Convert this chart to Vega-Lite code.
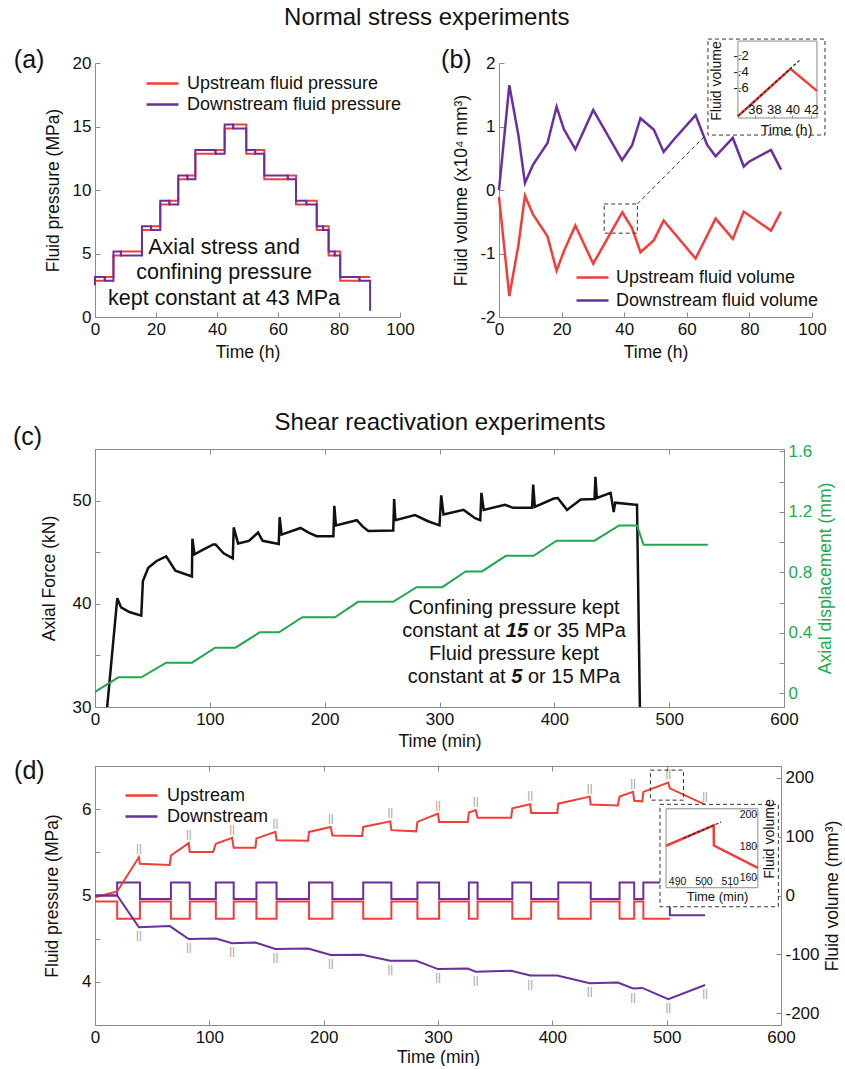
{
"$schema": "https://vega.github.io/schema/vega-lite/v6.json",
"background": "white",
"padding": {"left": 12, "top": 5, "right": 0, "bottom": 0},
"title": {"text": "Normal stress experiments", "fontSize": 24, "anchor": "middle", "offset": 9},
"spacing": 49,
"resolve": {"scale": {"color": "independent"}, "legend": {"color": "independent"}},
"vconcat": [
{"hconcat": [
{
 "width": 305, "height": 254,
 "view": {"stroke": null},
 "layer": [
  {"data": {"name": "pa"},
   "mark": {"type": "line", "interpolate": "step-after", "strokeWidth": 2},
   "encoding": {
    "x": {"field": "t", "type": "quantitative", "scale": {"domain": [0, 100]}, "axis": {"title": "Time (h)", "values": [0, 20, 40, 60, 80, 100], "titlePadding": 6}},
    "y": {"field": "p", "type": "quantitative", "scale": {"domain": [0, 20]}, "axis": {"title": "Fluid pressure (MPa)", "values": [0, 5, 10, 15, 20], "titlePadding": 10}},
    "color": {"field": "s", "type": "nominal", "scale": {"domain": ["Upstream fluid pressure", "Downstream fluid pressure"], "range": ["#f23d38", "#6a2e9e"]}, "legend": {"title": null, "orient": "none", "legendX": 58, "legendY": 11}}
   }},
  {"data": {"name": "patext"},
   "mark": {"type": "text", "fontSize": 21.5, "baseline": "middle", "color": "#111"},
   "encoding": {"x": {"field": "t", "type": "quantitative", "scale": {"domain": [0, 100]}}, "y": {"field": "p", "type": "quantitative", "scale": {"domain": [0, 20]}}, "text": {"field": "txt"}}},
  {"data": {"values": [{"t": -26.6, "p": 19.2, "txt": "(a)"}]},
   "mark": {"type": "text", "fontSize": 25, "baseline": "bottom", "align": "left", "color": "#111"},
   "encoding": {"x": {"field": "t", "type": "quantitative", "scale": {"domain": [0, 100]}}, "y": {"field": "p", "type": "quantitative", "scale": {"domain": [0, 20]}}, "text": {"field": "txt"}}}
 ]
},
{
 "width": 313, "height": 254,
 "view": {"stroke": null},
 "resolve": {"scale": {"x": "independent", "y": "independent"}},
 "layer": [
  {"layer": [
    {"data": {"name": "pb"}, "mark": {"type": "line", "strokeWidth": 2.5},
     "encoding": {
      "x": {"field": "t", "type": "quantitative", "scale": {"domain": [0, 100]}, "axis": {"title": "Time (h)", "values": [0, 20, 40, 60, 80, 100], "titlePadding": 6}},
      "y": {"field": "v", "type": "quantitative", "scale": {"domain": [-2, 2]}, "axis": {"title": "Fluid volume (x10⁴ mm³)", "values": [-2, -1, 0, 1, 2], "labelExpr": "replace(format(datum.value, '.0f'), '\u2212', '-')", "titlePadding": 9}},
      "color": {"field": "s", "type": "nominal", "scale": {"domain": ["Upstream fluid volume", "Downstream fluid volume"], "range": ["#f23d38", "#6a2e9e"]}, "legend": {"title": null, "orient": "none", "legendX": 84, "legendY": 205, "rowPadding": 4, "labelOffset": 14}}
     }},
    {"data": {"name": "pbbox"}, "mark": {"type": "rect", "fill": "transparent", "stroke": "#333", "strokeWidth": 1, "strokeDash": [4, 3]},
     "encoding": {"x": {"field": "x1", "type": "quantitative", "scale": {"domain": [0, 100]}}, "x2": {"field": "x2"}, "y": {"field": "y1", "type": "quantitative", "scale": {"domain": [-2, 2]}}, "y2": {"field": "y2"}}},
    {"data": {"name": "pbconn"}, "mark": {"type": "line", "stroke": "#333", "strokeWidth": 1, "strokeDash": [4, 3]},
     "encoding": {"x": {"field": "t", "type": "quantitative", "scale": {"domain": [0, 100]}}, "y": {"field": "v", "type": "quantitative", "scale": {"domain": [-2, 2]}}}},
    {"data": {"values": [{"t": -18.5, "v": 1.85, "txt": "(b)"}]},
     "mark": {"type": "text", "fontSize": 25, "baseline": "bottom", "align": "left", "color": "#111"},
     "encoding": {"x": {"field": "t", "type": "quantitative", "scale": {"domain": [0, 100]}}, "y": {"field": "v", "type": "quantitative", "scale": {"domain": [-2, 2]}}, "text": {"field": "txt"}}}
  ]},
  {"layer": [
    {"data": {"name": "pbin_box"}, "transform": [{"filter": "datum.k == 'outer'"}],
     "mark": {"type": "rect", "fill": "white", "stroke": "#333", "strokeWidth": 1, "strokeDash": [4, 3]},
     "encoding": {
      "x": {"field": "x1", "type": "quantitative", "scale": {"domain": [8.62, 42.1]}, "axis": {"orient": "top", "offset": -55, "zindex": 2, "values": [36, 38, 40, 42], "domain": false, "tickSize": 3, "labelPadding": -1, "labelFontSize": 13, "title": "Time (h)", "titleFontSize": 14, "titleX": 287, "titleY": 5, "titleBaseline": "top", "titleAlign": "center", "titleAngle": 0}},
      "x2": {"field": "x2"},
      "y": {"field": "y1", "type": "quantitative", "scale": {"domain": [-3.415, -0.1], "range": [254, -16.1]}, "axis": {"orient": "right", "offset": -74, "zindex": 2, "values": [-0.2, -0.4, -0.6], "domain": false, "tickSize": 3, "labelPadding": -8, "labelFontSize": 13, "labelExpr": "replace(replace(format(datum.value, '.1f'), '0.', '.'), '\u2212', '-')", "title": "Fluid volume", "titleFontSize": 14, "titleX": -15, "titleY": 17.5, "titleAngle": -90, "titleBaseline": "bottom", "titleAlign": "center"}},
      "y2": {"field": "y2"}
     }},
    {"data": {"name": "pbin_box"}, "transform": [{"filter": "datum.k == 'inner'"}],
     "mark": {"type": "rect", "fill": "transparent", "stroke": "#8c8c8c", "strokeWidth": 1},
     "encoding": {"x": {"field": "x1", "type": "quantitative", "scale": {"domain": [8.62, 42.1]}}, "x2": {"field": "x2"}, "y": {"field": "y1", "type": "quantitative", "scale": {"domain": [-3.415, -0.1], "range": [254, -16.1]}}, "y2": {"field": "y2"}}},
    {"data": {"name": "pbin"}, "transform": [{"filter": "datum.k == 'red'"}],
     "mark": {"type": "line", "stroke": "#f23d38", "strokeWidth": 2.5},
     "encoding": {"x": {"field": "t", "type": "quantitative", "scale": {"domain": [8.62, 42.1]}}, "y": {"field": "v", "type": "quantitative", "scale": {"domain": [-3.415, -0.1], "range": [254, -16.1]}}}},
    {"data": {"name": "pbin"}, "transform": [{"filter": "datum.k == 'dash'"}],
     "mark": {"type": "line", "stroke": "#222", "strokeWidth": 1.2, "strokeDash": [3, 2]},
     "encoding": {"x": {"field": "t", "type": "quantitative", "scale": {"domain": [8.62, 42.1]}}, "y": {"field": "v", "type": "quantitative", "scale": {"domain": [-3.415, -0.1], "range": [254, -16.1]}}}}
  ]}
 ]
}
], "spacing": 26, "resolve": {"scale": {"color": "independent"}, "legend": {"color": "independent"}}},
{"vconcat": [
{
 "width": 689, "height": 258,
 "resolve": {"scale": {"x": "independent", "y": "independent"}},
 "layer": [
  {"layer": [
    {"data": {"name": "pc"}, "mark": {"type": "line", "color": "#111", "strokeWidth": 2.5, "clip": true},
     "encoding": {
      "x": {"field": "t", "type": "quantitative", "scale": {"domain": [0, 600]}, "axis": {"title": "Time (min)", "values": [0, 100, 200, 300, 400, 500, 600], "titlePadding": 5}},
      "y": {"field": "f", "type": "quantitative", "scale": {"domain": [30, 55]}, "axis": {"title": "Axial Force (kN)", "values": [30, 35, 40, 45, 50], "labelExpr": "datum.value % 10 == 0 ? format(datum.value, '.0f') : ''", "titlePadding": 14}}
     }},
    {"data": {"name": "pctext"}, "transform": [{"filter": "datum.part == 'c'"}],
     "mark": {"type": "text", "fontSize": 20, "baseline": "middle", "align": "center", "color": "#111"},
     "encoding": {"x": {"field": "t", "type": "quantitative", "scale": {"domain": [0, 600]}}, "y": {"field": "f", "type": "quantitative", "scale": {"domain": [30, 55]}}, "text": {"field": "txt"}}},
    {"data": {"name": "pctext"}, "transform": [{"filter": "datum.part == 'r'"}],
     "mark": {"type": "text", "fontSize": 20, "baseline": "middle", "align": "right", "color": "#111"},
     "encoding": {"x": {"field": "t", "type": "quantitative", "scale": {"domain": [0, 600]}}, "y": {"field": "f", "type": "quantitative", "scale": {"domain": [30, 55]}}, "text": {"field": "txt"}}},
    {"data": {"name": "pctext"}, "transform": [{"filter": "datum.part == 'b'"}],
     "mark": {"type": "text", "fontSize": 20, "baseline": "middle", "align": "left", "fontWeight": "bold", "fontStyle": "italic", "color": "#111"},
     "encoding": {"x": {"field": "t", "type": "quantitative", "scale": {"domain": [0, 600]}}, "y": {"field": "f", "type": "quantitative", "scale": {"domain": [30, 55]}}, "text": {"field": "txt"}}},
    {"data": {"name": "pctext"}, "transform": [{"filter": "datum.part == 'l'"}],
     "mark": {"type": "text", "fontSize": 20, "baseline": "middle", "align": "left", "color": "#111"},
     "encoding": {"x": {"field": "t", "type": "quantitative", "scale": {"domain": [0, 600]}}, "y": {"field": "f", "type": "quantitative", "scale": {"domain": [30, 55]}}, "text": {"field": "txt"}}},
    {"data": {"values": [{"t": -71.4, "f": 54.9, "txt": "(c)"}]},
     "mark": {"type": "text", "fontSize": 25, "baseline": "bottom", "align": "left", "color": "#111"},
     "encoding": {"x": {"field": "t", "type": "quantitative", "scale": {"domain": [0, 600]}}, "y": {"field": "f", "type": "quantitative", "scale": {"domain": [30, 55]}}, "text": {"field": "txt"}}}
  ]},
  {"data": {"name": "pcg"}, "mark": {"type": "line", "color": "#1fa84f", "strokeWidth": 2},
   "encoding": {
    "x": {"field": "t", "type": "quantitative", "scale": {"domain": [0, 600]}, "axis": {"orient": "top", "labels": false, "domain": false, "values": [0, 100, 200, 300, 400, 500, 600], "title": "Shear reactivation experiments", "titleFontSize": 24, "titlePadding": 14}},
    "y": {"field": "d", "type": "quantitative", "scale": {"domain": [-0.09, 1.615]}, "axis": {"orient": "right", "values": [0, 0.2, 0.4, 0.6, 0.8, 1, 1.2, 1.4, 1.6], "labelExpr": "round(datum.value*10) % 4 == 0 ? (datum.value == 0 ? '0' : format(datum.value, '.1f')) : ''", "labelColor": "#1fa84f", "title": "Axial displacement (mm)", "titleColor": "#1fa84f", "titleAngle": -90, "titleBaseline": "top", "titlePadding": 5}}
   }}
 ]
},
{
 "width": 686, "height": 259,
 "resolve": {"scale": {"x": "independent", "y": "independent"}},
 "layer": [
  {"layer": [
    {"data": {"name": "pdp"}, "mark": {"type": "line", "interpolate": "step-after", "strokeWidth": 2},
     "encoding": {
      "x": {"field": "t", "type": "quantitative", "scale": {"domain": [0, 600]}, "axis": {"title": "Time (min)", "values": [0, 100, 200, 300, 400, 500, 600], "titlePadding": 3}},
      "y": {"field": "p", "type": "quantitative", "scale": {"domain": [3.5, 6.5]}, "axis": {"title": "Fluid pressure (MPa)", "values": [4, 4.5, 5, 5.5, 6], "labelExpr": "datum.value % 1 == 0 ? format(datum.value, '.0f') : ''", "titlePadding": 20}},
      "color": {"field": "s", "type": "nominal", "scale": {"domain": ["Upstream", "Downstream"], "range": ["#f23d38", "#6a2e9e"]}, "legend": {"title": null, "orient": "none", "legendX": 37, "legendY": 20, "labelOffset": 16}}
     }},
    {"data": {"values": [{"t": -70.8, "p": 6.29, "txt": "(d)"}]},
     "mark": {"type": "text", "fontSize": 25, "baseline": "bottom", "align": "left", "color": "#111"},
     "encoding": {"x": {"field": "t", "type": "quantitative", "scale": {"domain": [0, 600]}}, "y": {"field": "p", "type": "quantitative", "scale": {"domain": [3.5, 6.5]}}, "text": {"field": "txt"}}}
  ]},
  {"layer": [
    {"data": {"name": "pdv"}, "mark": {"type": "line", "strokeWidth": 2},
     "encoding": {
      "x": {"field": "t", "type": "quantitative", "scale": {"domain": [0, 600]}, "axis": {"orient": "top", "labels": false, "domain": false, "values": [0, 100, 200, 300, 400, 500, 600], "title": null}},
      "y": {"field": "v", "type": "quantitative", "scale": {"domain": [-220, 220]}, "axis": {"orient": "right", "values": [-200, -150, -100, -50, 0, 50, 100, 150, 200], "labelExpr": "datum.value % 100 == 0 ? replace(format(datum.value, '.0f'), '\u2212', '-') : ''", "title": "Fluid volume (mm³)", "titleAngle": -90, "titleBaseline": "top", "titlePadding": 4}},
      "color": {"field": "s", "type": "nominal", "scale": {"domain": ["Upstream", "Downstream"], "range": ["#f23d38", "#6a2e9e"]}, "legend": null}
     }},
    {"data": {"name": "pdtick"}, "transform": [{"filter": "datum.s == 'Upstream'"}],
     "mark": {"type": "text", "text": "||", "fontSize": 11, "color": "#9a9a9a", "baseline": "bottom", "dy": -3},
     "encoding": {"x": {"field": "t", "type": "quantitative", "scale": {"domain": [0, 600]}}, "y": {"field": "v", "type": "quantitative", "scale": {"domain": [-220, 220]}}}},
    {"data": {"name": "pdtick"}, "transform": [{"filter": "datum.s == 'Downstream'"}],
     "mark": {"type": "text", "text": "||", "fontSize": 11, "color": "#9a9a9a", "baseline": "top", "dy": 3},
     "encoding": {"x": {"field": "t", "type": "quantitative", "scale": {"domain": [0, 600]}}, "y": {"field": "v", "type": "quantitative", "scale": {"domain": [-220, 220]}}}},
    {"data": {"name": "pdbox"}, "mark": {"type": "rect", "fill": "transparent", "stroke": "#333", "strokeWidth": 1, "strokeDash": [4, 3]},
     "encoding": {"x": {"field": "x1", "type": "quantitative", "scale": {"domain": [0, 600]}}, "x2": {"field": "x2"}, "y": {"field": "y1", "type": "quantitative", "scale": {"domain": [-220, 220]}}, "y2": {"field": "y2"}}}
  ]},
  {"layer": [
    {"data": {"name": "pdin_box"}, "transform": [{"filter": "datum.k == 'outer'"}],
     "mark": {"type": "rect", "fill": "white", "stroke": "#333", "strokeWidth": 1, "strokeDash": [4, 3]},
     "encoding": {
      "x": {"field": "x1", "type": "quantitative", "scale": {"domain": [268.7, 529.5]}, "axis": {"orient": "top", "offset": -121.7, "zindex": 2, "values": [490, 500, 510], "domain": false, "tickSize": 3, "labelPadding": -2, "labelFontSize": 10.5, "title": "Time (min)", "titleFontSize": 13, "titleX": 622, "titleY": 3, "titleBaseline": "top", "titleAlign": "center", "titleAngle": 0}},
      "x2": {"field": "x2"},
      "y": {"field": "y1", "type": "quantitative", "scale": {"domain": [67.1, 230.5]}, "axis": {"orient": "left", "offset": -662.7, "zindex": 2, "values": [160, 180, 200], "domain": false, "tickSize": 3, "labelPadding": -2, "labelFontSize": 10.5, "title": "Fluid volume", "titleFontSize": 14, "titleX": 5, "titleY": 72.5, "titleAngle": -90, "titleBaseline": "top", "titleAlign": "center"}},
      "y2": {"field": "y2"}
     }},
    {"data": {"name": "pdin_box"}, "transform": [{"filter": "datum.k == 'inner'"}],
     "mark": {"type": "rect", "fill": "transparent", "stroke": "#8c8c8c", "strokeWidth": 1},
     "encoding": {"x": {"field": "x1", "type": "quantitative", "scale": {"domain": [268.7, 529.5]}}, "x2": {"field": "x2"}, "y": {"field": "y1", "type": "quantitative", "scale": {"domain": [67.1, 230.5]}}, "y2": {"field": "y2"}}},
    {"data": {"name": "pdin"}, "transform": [{"filter": "datum.k == 'red'"}],
     "mark": {"type": "line", "stroke": "#f23d38", "strokeWidth": 2.5},
     "encoding": {"x": {"field": "t", "type": "quantitative", "scale": {"domain": [268.7, 529.5]}}, "y": {"field": "v", "type": "quantitative", "scale": {"domain": [67.1, 230.5]}}}},
    {"data": {"name": "pdin"}, "transform": [{"filter": "datum.k == 'dash'"}],
     "mark": {"type": "line", "stroke": "#222", "strokeWidth": 1.2, "strokeDash": [3, 2]},
     "encoding": {"x": {"field": "t", "type": "quantitative", "scale": {"domain": [268.7, 529.5]}}, "y": {"field": "v", "type": "quantitative", "scale": {"domain": [67.1, 230.5]}}}}
  ]}
 ]
}
], "spacing": 8, "resolve": {"scale": {"color": "independent"}, "legend": {"color": "independent"}}}
],
"datasets": {
 "pa": [
  {"t":0,"p":2.85,"s":"Upstream fluid pressure"},{"t":3.2,"p":3.15,"s":"Upstream fluid pressure"},{"t":6.05,"p":4.85,"s":"Upstream fluid pressure"},{"t":8.5,"p":5.15,"s":"Upstream fluid pressure"},{"t":15.4,"p":6.85,"s":"Upstream fluid pressure"},{"t":18.4,"p":7.15,"s":"Upstream fluid pressure"},{"t":21.4,"p":8.85,"s":"Upstream fluid pressure"},{"t":24.4,"p":9.15,"s":"Upstream fluid pressure"},{"t":27.3,"p":10.85,"s":"Upstream fluid pressure"},{"t":30.3,"p":11.15,"s":"Upstream fluid pressure"},{"t":32.9,"p":12.85,"s":"Upstream fluid pressure"},{"t":39.5,"p":13.15,"s":"Upstream fluid pressure"},{"t":42.5,"p":14.85,"s":"Upstream fluid pressure"},{"t":45.3,"p":15.15,"s":"Upstream fluid pressure"},{"t":49.6,"p":12.85,"s":"Upstream fluid pressure"},{"t":52.5,"p":13.15,"s":"Upstream fluid pressure"},{"t":55.5,"p":10.85,"s":"Upstream fluid pressure"},{"t":63.2,"p":11.15,"s":"Upstream fluid pressure"},{"t":65.9,"p":8.85,"s":"Upstream fluid pressure"},{"t":69.3,"p":9.15,"s":"Upstream fluid pressure"},{"t":72.7,"p":6.85,"s":"Upstream fluid pressure"},{"t":74.8,"p":7.15,"s":"Upstream fluid pressure"},{"t":76.6,"p":4.85,"s":"Upstream fluid pressure"},{"t":78.6,"p":5.15,"s":"Upstream fluid pressure"},{"t":80.4,"p":2.85,"s":"Upstream fluid pressure"},{"t":86.7,"p":3.15,"s":"Upstream fluid pressure"},{"t":90.2,"p":3.15,"s":"Upstream fluid pressure"},
  {"t":0,"p":2.5,"s":"Downstream fluid pressure"},{"t":0,"p":3.15,"s":"Downstream fluid pressure"},{"t":3.2,"p":2.85,"s":"Downstream fluid pressure"},{"t":6.05,"p":5.15,"s":"Downstream fluid pressure"},{"t":8.5,"p":4.85,"s":"Downstream fluid pressure"},{"t":15.4,"p":7.15,"s":"Downstream fluid pressure"},{"t":18.4,"p":6.85,"s":"Downstream fluid pressure"},{"t":21.4,"p":9.15,"s":"Downstream fluid pressure"},{"t":24.4,"p":8.85,"s":"Downstream fluid pressure"},{"t":27.3,"p":11.15,"s":"Downstream fluid pressure"},{"t":30.3,"p":10.85,"s":"Downstream fluid pressure"},{"t":32.9,"p":13.15,"s":"Downstream fluid pressure"},{"t":39.5,"p":12.85,"s":"Downstream fluid pressure"},{"t":42.5,"p":15.15,"s":"Downstream fluid pressure"},{"t":45.3,"p":14.85,"s":"Downstream fluid pressure"},{"t":49.6,"p":13.15,"s":"Downstream fluid pressure"},{"t":52.5,"p":12.85,"s":"Downstream fluid pressure"},{"t":55.5,"p":11.15,"s":"Downstream fluid pressure"},{"t":63.2,"p":10.85,"s":"Downstream fluid pressure"},{"t":65.9,"p":9.15,"s":"Downstream fluid pressure"},{"t":69.3,"p":8.85,"s":"Downstream fluid pressure"},{"t":72.7,"p":7.15,"s":"Downstream fluid pressure"},{"t":74.8,"p":6.85,"s":"Downstream fluid pressure"},{"t":76.6,"p":5.15,"s":"Downstream fluid pressure"},{"t":78.6,"p":4.85,"s":"Downstream fluid pressure"},{"t":80.4,"p":3.15,"s":"Downstream fluid pressure"},{"t":86.7,"p":2.85,"s":"Downstream fluid pressure"},{"t":90.2,"p":0.5,"s":"Downstream fluid pressure"}
 ],
 "patext": [
  {"t":42.3,"p":5.45,"txt":"Axial stress and"},
  {"t":42.3,"p":3.45,"txt":"confining pressure"},
  {"t":42.3,"p":1.42,"txt":"kept constant at 43 MPa"}
 ],
 "pb": [
  {"t":0,"v":-0.11,"s":"Upstream fluid volume"},{"t":3.3,"v":-1.67,"s":"Upstream fluid volume"},{"t":6.2,"v":-0.87,"s":"Upstream fluid volume"},{"t":8.3,"v":-0.09,"s":"Upstream fluid volume"},{"t":10.9,"v":-0.39,"s":"Upstream fluid volume"},{"t":15.5,"v":-0.73,"s":"Upstream fluid volume"},{"t":18.4,"v":-1.27,"s":"Upstream fluid volume"},{"t":20.7,"v":-0.97,"s":"Upstream fluid volume"},{"t":24.4,"v":-0.56,"s":"Upstream fluid volume"},{"t":30.1,"v":-1.16,"s":"Upstream fluid volume"},{"t":39.4,"v":-0.35,"s":"Upstream fluid volume"},{"t":42.5,"v":-0.6,"s":"Upstream fluid volume"},{"t":45.2,"v":-0.98,"s":"Upstream fluid volume"},{"t":49.5,"v":-0.79,"s":"Upstream fluid volume"},{"t":52.6,"v":-0.48,"s":"Upstream fluid volume"},{"t":62.8,"v":-1.08,"s":"Upstream fluid volume"},{"t":69.2,"v":-0.45,"s":"Upstream fluid volume"},{"t":74.7,"v":-0.77,"s":"Upstream fluid volume"},{"t":78.2,"v":-0.34,"s":"Upstream fluid volume"},{"t":86.9,"v":-0.64,"s":"Upstream fluid volume"},{"t":90.1,"v":-0.34,"s":"Upstream fluid volume"},
  {"t":0,"v":0,"s":"Downstream fluid volume"},{"t":3.3,"v":1.65,"s":"Downstream fluid volume"},{"t":6.2,"v":0.86,"s":"Downstream fluid volume"},{"t":8.3,"v":0.11,"s":"Downstream fluid volume"},{"t":10.9,"v":0.4,"s":"Downstream fluid volume"},{"t":15.5,"v":0.74,"s":"Downstream fluid volume"},{"t":18.4,"v":1.31,"s":"Downstream fluid volume"},{"t":20.7,"v":0.96,"s":"Downstream fluid volume"},{"t":24.4,"v":0.64,"s":"Downstream fluid volume"},{"t":30.1,"v":1.26,"s":"Downstream fluid volume"},{"t":39.3,"v":0.47,"s":"Downstream fluid volume"},{"t":42.5,"v":0.7,"s":"Downstream fluid volume"},{"t":45.2,"v":1.13,"s":"Downstream fluid volume"},{"t":49.5,"v":0.95,"s":"Downstream fluid volume"},{"t":52.6,"v":0.6,"s":"Downstream fluid volume"},{"t":55.6,"v":0.78,"s":"Downstream fluid volume"},{"t":62.8,"v":1.18,"s":"Downstream fluid volume"},{"t":66.5,"v":0.71,"s":"Downstream fluid volume"},{"t":69.2,"v":0.53,"s":"Downstream fluid volume"},{"t":74.7,"v":0.82,"s":"Downstream fluid volume"},{"t":78.2,"v":0.37,"s":"Downstream fluid volume"},{"t":80,"v":0.45,"s":"Downstream fluid volume"},{"t":86.9,"v":0.63,"s":"Downstream fluid volume"},{"t":90.1,"v":0.32,"s":"Downstream fluid volume"}
 ],
 "pbbox": [{"x1":33.6,"x2":44.2,"y1":-0.68,"y2":-0.22}],
 "pbconn": [{"t":44.2,"v":-0.22},{"t":66,"v":0.86}],
 "pbin_box": [{"x1":30.97,"x2":43.49,"y1":-1.182,"y2":-0.004,"k":"outer"},{"x1":34.18,"x2":42.63,"y1":-0.973,"y2":-0.028,"k":"inner"}],
 "pbin": [{"t":34.18,"v":-0.95,"k":"red"},{"t":39.8,"v":-0.37,"k":"red"},{"t":42.63,"v":-0.64,"k":"red"},{"t":34.18,"v":-0.95,"k":"dash"},{"t":40.9,"v":-0.25,"k":"dash"}],
 "pc": [
  {"t":10.6,"f":30},{"t":19.4,"f":40.55},{"t":22.7,"f":39.65},{"t":29.9,"f":39.2},{"t":40.3,"f":38.85},{"t":41.7,"f":42.2},{"t":46.4,"f":43.5},{"t":53.6,"f":44.15},{"t":62,"f":44.6},{"t":70,"f":43.2},{"t":84.4,"f":42.65},{"t":84.8,"f":46.3},{"t":86.7,"f":44.8},{"t":95,"f":45.3},{"t":103,"f":45.75},{"t":105,"f":45.75},{"t":112,"f":44.9},{"t":120,"f":44.4},{"t":120.8,"f":47.4},{"t":124.6,"f":45.85},{"t":134,"f":46.1},{"t":142,"f":46.9},{"t":146,"f":46.1},{"t":160,"f":45.8},{"t":160.8,"f":48.4},{"t":162.5,"f":46.7},{"t":179,"f":47.35},{"t":186,"f":46.9},{"t":193,"f":46.55},{"t":207.6,"f":46.55},{"t":208.4,"f":49.5},{"t":209.8,"f":47.6},{"t":228,"f":48.1},{"t":233,"f":47.5},{"t":238,"f":47.05},{"t":259.7,"f":47.1},{"t":260.5,"f":50.15},{"t":261.6,"f":48.1},{"t":278.7,"f":48.6},{"t":290,"f":48.0},{"t":300,"f":47.6},{"t":301.5,"f":50.5},{"t":303.5,"f":48.65},{"t":321,"f":49.1},{"t":331,"f":48.3},{"t":335.5,"f":48.1},{"t":336.5,"f":50.75},{"t":338.5,"f":49.1},{"t":357,"f":49.6},{"t":364,"f":49.3},{"t":380.6,"f":49.3},{"t":381.6,"f":51.55},{"t":383,"f":49.4},{"t":399.5,"f":50.2},{"t":403,"f":50.25},{"t":411,"f":49.1},{"t":423,"f":50.1},{"t":435,"f":50.15},{"t":435.8,"f":52.3},{"t":437,"f":50.25},{"t":449,"f":50.75},{"t":451.7,"f":48.9},{"t":453,"f":49.8},{"t":470.6,"f":49.6},{"t":472,"f":49.6},{"t":474.5,"f":30}
 ],
 "pctext": [
  {"t":364.9,"f":39.6,"txt":"Confining pressure kept","part":"c"},
  {"t":364.9,"f":35.1,"txt":"Fluid pressure kept","part":"c"},
  {"t":352.8,"f":37.4,"txt":"constant at","part":"r"},
  {"t":357.7,"f":37.4,"txt":"15","part":"b"},
  {"t":381.9,"f":37.4,"txt":"or 35 MPa","part":"l"},
  {"t":357.6,"f":32.9,"txt":"constant at","part":"r"},
  {"t":362.5,"f":32.9,"txt":"5","part":"b"},
  {"t":377.0,"f":32.9,"txt":"or 15 MPa","part":"l"}
 ],
 "pcg": [
  {"t":0,"d":0.01},{"t":20.4,"d":0.106},{"t":40.3,"d":0.106},{"t":62,"d":0.203},{"t":84.4,"d":0.203},{"t":104.7,"d":0.302},{"t":122.3,"d":0.302},{"t":143.6,"d":0.404},{"t":160.2,"d":0.404},{"t":180.6,"d":0.503},{"t":209,"d":0.503},{"t":229,"d":0.605},{"t":259.7,"d":0.605},{"t":280,"d":0.702},{"t":302.4,"d":0.702},{"t":322.7,"d":0.806},{"t":337,"d":0.806},{"t":357.8,"d":0.909},{"t":382,"d":0.909},{"t":401.9,"d":1.009},{"t":435,"d":1.009},{"t":456.4,"d":1.11},{"t":472,"d":1.11},{"t":477.7,"d":0.982},{"t":533.6,"d":0.982}
 ],
 "pdp": [
  {"t":0,"p":4.93,"s":"Upstream"},{"t":19.4,"p":4.73,"s":"Upstream"},{"t":39.3,"p":4.93,"s":"Upstream"},{"t":66.4,"p":4.73,"s":"Upstream"},{"t":82.9,"p":4.93,"s":"Upstream"},{"t":105.7,"p":4.73,"s":"Upstream"},{"t":121.3,"p":4.93,"s":"Upstream"},{"t":141.2,"p":4.73,"s":"Upstream"},{"t":158.8,"p":4.93,"s":"Upstream"},{"t":187.2,"p":4.73,"s":"Upstream"},{"t":207.6,"p":4.93,"s":"Upstream"},{"t":234.6,"p":4.73,"s":"Upstream"},{"t":259.2,"p":4.93,"s":"Upstream"},{"t":282,"p":4.73,"s":"Upstream"},{"t":301,"p":4.93,"s":"Upstream"},{"t":327,"p":4.73,"s":"Upstream"},{"t":334.6,"p":4.93,"s":"Upstream"},{"t":365,"p":4.73,"s":"Upstream"},{"t":381.5,"p":4.93,"s":"Upstream"},{"t":405.2,"p":4.73,"s":"Upstream"},{"t":433.6,"p":4.93,"s":"Upstream"},{"t":458.8,"p":4.73,"s":"Upstream"},{"t":471.6,"p":4.93,"s":"Upstream"},{"t":479.6,"p":4.73,"s":"Upstream"},{"t":502.8,"p":4.73,"s":"Upstream"},
  {"t":0,"p":5.0,"s":"Downstream"},{"t":19.4,"p":5.15,"s":"Downstream"},{"t":39.3,"p":4.96,"s":"Downstream"},{"t":66.4,"p":5.15,"s":"Downstream"},{"t":82.9,"p":4.96,"s":"Downstream"},{"t":105.7,"p":5.15,"s":"Downstream"},{"t":121.3,"p":4.96,"s":"Downstream"},{"t":141.2,"p":5.15,"s":"Downstream"},{"t":158.8,"p":4.96,"s":"Downstream"},{"t":187.2,"p":5.15,"s":"Downstream"},{"t":207.6,"p":4.96,"s":"Downstream"},{"t":234.6,"p":5.15,"s":"Downstream"},{"t":259.2,"p":4.96,"s":"Downstream"},{"t":282,"p":5.15,"s":"Downstream"},{"t":301,"p":4.96,"s":"Downstream"},{"t":327,"p":5.15,"s":"Downstream"},{"t":334.6,"p":4.96,"s":"Downstream"},{"t":365,"p":5.15,"s":"Downstream"},{"t":381.5,"p":4.96,"s":"Downstream"},{"t":405.2,"p":5.15,"s":"Downstream"},{"t":433.6,"p":4.96,"s":"Downstream"},{"t":458.8,"p":5.15,"s":"Downstream"},{"t":471.6,"p":4.96,"s":"Downstream"},{"t":479.6,"p":5.15,"s":"Downstream"},{"t":502.8,"p":4.77,"s":"Downstream"},{"t":533.6,"p":4.77,"s":"Downstream"}
 ],
 "pdv": [
  {"t":0,"v":-3,"s":"Upstream"},{"t":10,"v":2,"s":"Upstream"},{"t":19.4,"v":6.8,"s":"Upstream"},{"t":38.4,"v":65,"s":"Upstream"},{"t":39.3,"v":54,"s":"Upstream"},{"t":65.4,"v":52,"s":"Upstream"},{"t":66.4,"v":68,"s":"Upstream"},{"t":82,"v":89,"s":"Upstream"},{"t":82.9,"v":74,"s":"Upstream"},{"t":103.3,"v":74,"s":"Upstream"},{"t":105.7,"v":88,"s":"Upstream"},{"t":119.9,"v":98,"s":"Upstream"},{"t":121.3,"v":81,"s":"Upstream"},{"t":140.3,"v":81,"s":"Upstream"},{"t":141.2,"v":97,"s":"Upstream"},{"t":157.8,"v":108,"s":"Upstream"},{"t":158.8,"v":94,"s":"Upstream"},{"t":186.3,"v":93,"s":"Upstream"},{"t":187.2,"v":108,"s":"Upstream"},{"t":206.2,"v":116.5,"s":"Upstream"},{"t":207.6,"v":102,"s":"Upstream"},{"t":233.6,"v":101,"s":"Upstream"},{"t":234.6,"v":116.5,"s":"Upstream"},{"t":258.3,"v":126,"s":"Upstream"},{"t":259.2,"v":111,"s":"Upstream"},{"t":281,"v":109,"s":"Upstream"},{"t":282,"v":125,"s":"Upstream"},{"t":300,"v":139,"s":"Upstream"},{"t":301,"v":125,"s":"Upstream"},{"t":326,"v":125,"s":"Upstream"},{"t":327,"v":141,"s":"Upstream"},{"t":333,"v":145,"s":"Upstream"},{"t":334.6,"v":132,"s":"Upstream"},{"t":364,"v":132,"s":"Upstream"},{"t":365,"v":148,"s":"Upstream"},{"t":380.6,"v":155,"s":"Upstream"},{"t":381.5,"v":140,"s":"Upstream"},{"t":404.3,"v":140,"s":"Upstream"},{"t":405.2,"v":156,"s":"Upstream"},{"t":432.7,"v":168,"s":"Upstream"},{"t":433.6,"v":154.5,"s":"Upstream"},{"t":457.3,"v":153,"s":"Upstream"},{"t":458.8,"v":168,"s":"Upstream"},{"t":470.6,"v":176,"s":"Upstream"},{"t":471.6,"v":161,"s":"Upstream"},{"t":478.7,"v":160,"s":"Upstream"},{"t":479.6,"v":176,"s":"Upstream"},{"t":501.4,"v":192,"s":"Upstream"},{"t":502.8,"v":182,"s":"Upstream"},{"t":533.6,"v":154.5,"s":"Upstream"},
  {"t":0,"v":0,"s":"Downstream"},{"t":19.4,"v":0,"s":"Downstream"},{"t":38.4,"v":-54,"s":"Downstream"},{"t":65.4,"v":-52,"s":"Downstream"},{"t":82,"v":-74,"s":"Downstream"},{"t":105.7,"v":-73,"s":"Downstream"},{"t":119.9,"v":-81,"s":"Downstream"},{"t":140.3,"v":-80,"s":"Downstream"},{"t":157.8,"v":-91,"s":"Downstream"},{"t":186.3,"v":-90,"s":"Downstream"},{"t":206.2,"v":-101,"s":"Downstream"},{"t":233.6,"v":-100.5,"s":"Downstream"},{"t":258.3,"v":-111,"s":"Downstream"},{"t":281,"v":-111,"s":"Downstream"},{"t":300,"v":-125,"s":"Downstream"},{"t":326,"v":-124,"s":"Downstream"},{"t":333,"v":-129.5,"s":"Downstream"},{"t":364,"v":-128,"s":"Downstream"},{"t":380.6,"v":-136,"s":"Downstream"},{"t":404.3,"v":-136,"s":"Downstream"},{"t":432.7,"v":-149,"s":"Downstream"},{"t":457.3,"v":-148,"s":"Downstream"},{"t":470.6,"v":-158,"s":"Downstream"},{"t":478.7,"v":-157,"s":"Downstream"},{"t":501.4,"v":-176,"s":"Downstream"},{"t":533.6,"v":-152,"s":"Downstream"}
 ],
 "pdtick": [
  {"t":38.4,"v":65,"s":"Upstream"},{"t":82,"v":89,"s":"Upstream"},{"t":119.9,"v":98,"s":"Upstream"},{"t":157.8,"v":108,"s":"Upstream"},{"t":206.2,"v":116.5,"s":"Upstream"},{"t":258.3,"v":126,"s":"Upstream"},{"t":300,"v":139,"s":"Upstream"},{"t":333,"v":145,"s":"Upstream"},{"t":380.6,"v":155,"s":"Upstream"},{"t":432.7,"v":168,"s":"Upstream"},{"t":470.6,"v":176,"s":"Upstream"},{"t":501.4,"v":192,"s":"Upstream"},{"t":533.6,"v":154.5,"s":"Upstream"},
  {"t":38.4,"v":-54,"s":"Downstream"},{"t":82,"v":-74,"s":"Downstream"},{"t":119.9,"v":-81,"s":"Downstream"},{"t":157.8,"v":-91,"s":"Downstream"},{"t":206.2,"v":-101,"s":"Downstream"},{"t":258.3,"v":-111,"s":"Downstream"},{"t":300,"v":-125,"s":"Downstream"},{"t":333,"v":-129.5,"s":"Downstream"},{"t":380.6,"v":-136,"s":"Downstream"},{"t":432.7,"v":-149,"s":"Downstream"},{"t":470.6,"v":-158,"s":"Downstream"},{"t":501.4,"v":-176,"s":"Downstream"},{"t":533.6,"v":-152,"s":"Downstream"}
 ],
 "pdbox": [{"x1":485.8,"x2":514.7,"y1":162,"y2":213}],
 "pdin_box": [{"x1":483.5,"x2":528.5,"y1":141.7,"y2":206.3,"k":"outer"},{"x1":485.8,"x2":520.7,"y1":153.7,"y2":203.5,"k":"inner"}],
 "pdin": [{"t":485.8,"v":180.2,"k":"red"},{"t":503.9,"v":193,"k":"red"},{"t":504,"v":180.3,"k":"red"},{"t":520.7,"v":166.3,"k":"red"},{"t":492.4,"v":184.9,"k":"dash"},{"t":506.7,"v":195.1,"k":"dash"}]
},
"config": {
 "font": "Liberation Sans",
 "view": {"stroke": "#8c8c8c"},
 "axis": {"domainColor": "#8c8c8c", "tickColor": "#8c8c8c", "tickSize": -5, "labelPadding": 9, "labelFontSize": 17, "titleFontSize": 17.5, "titleFontWeight": "normal", "labelColor": "#111", "titleColor": "#111", "grid": false, "labelFlush": false, "labelOverlap": false},
 "legend": {"symbolType": "M-2,0L2,0", "symbolSize": 256, "symbolStrokeWidth": 2.5, "labelFontSize": 18, "labelOffset": 15, "padding": 0, "rowPadding": 2, "labelColor": "#111", "labelLimit": 400},
 "title": {"fontWeight": "normal", "color": "#111"}
}
}
